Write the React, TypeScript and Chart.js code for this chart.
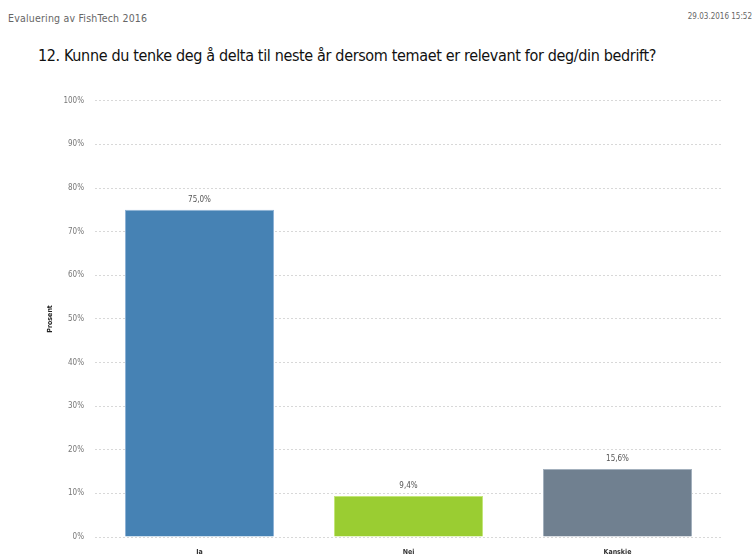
import React, { useEffect, useRef } from "react";
import { Chart, registerables } from "chart.js";

Chart.register(...registerables);

const categories = ["Ja", "Nei", "Kanskje"];
const values = [75.0, 9.4, 15.6];
const barColors = ["#4682B4", "#9ACD32", "#708090"];
const borderColors = ["#8fb3d6", "#c4e67a", "#a3b0bd"];
const yTicks = [0, 10, 20, 30, 40, 50, 60, 70, 80, 90, 100];
const headerLeft = "Evaluering av FishTech 2016";
const headerRight = "29.03.2016 15:52";
const titleText = "12. Kunne du tenke deg å delta til neste år dersom temaet er relevant for deg/din bedrift?";
const yTitle = "Prosent";

const FONT = "'Liberation Sans Narrow', 'DejaVu Sans Condensed', 'Open Sans', sans-serif";

const labelPlugin = {
  id: "labels",
  afterDatasetsDraw(chart: any) {
    const ctx = chart.ctx;
    const meta = chart.getDatasetMeta(0);
    ctx.save();
    ctx.font = `8px ${FONT}`;
    ctx.fillStyle = "#555";
    ctx.textAlign = "center";
    ctx.textBaseline = "bottom";
    meta.data.forEach((bar: any, i: number) => {
      ctx.fillText(values[i].toFixed(1).replace(".", ",") + "%", bar.x, bar.y - 6);
    });
    // y axis title
    const area = chart.chartArea;
    ctx.translate(50, (area.top + area.bottom) / 2);
    ctx.rotate(-Math.PI / 2);
    ctx.font = `bold 7px ${FONT}`;
    ctx.fillStyle = "#222";
    ctx.textBaseline = "middle";
    ctx.fillText(yTitle, 0, 0);
    ctx.restore();
  },
};

export default function App() {
  const ref = useRef<HTMLCanvasElement>(null);
  useEffect(() => {
    if (!ref.current) return;
    const chart = new Chart(ref.current, {
      type: "bar",
      data: {
        labels: categories,
        datasets: [
          {
            data: values,
            backgroundColor: barColors,
            borderColor: borderColors,
            borderWidth: 1,
            categoryPercentage: 0.713,
            barPercentage: 1,
          },
        ],
      },
      options: {
        animation: false,
        responsive: false,
        maintainAspectRatio: false,
        layout: { padding: { top: 15, right: 33, bottom: 0, left: 0 } },
        plugins: { legend: { display: false }, tooltip: { enabled: false } },
        scales: {
          x: {
            grid: { display: false, drawTicks: false },
            border: { display: false },
            ticks: { color: "#333", font: { size: 7, family: FONT, weight: "bold" }, padding: 11 },
            afterFit: (s: any) => { s.height = 38; },
          },
          y: {
            min: 0,
            max: 100,
            afterBuildTicks: (s: any) => { s.ticks = yTicks.map((v) => ({ value: v })); },
            grid: { color: "#d8d8d8", drawTicks: false, lineWidth: 1 },
            border: { display: false, dash: [2, 2] },
            ticks: {
              color: "#777",
              font: { size: 8, family: FONT },
              padding: 11,
              callback: (v: any) => v + "%",
            },
            afterFit: (s: any) => { s.width = 95; },
          },
        },
      },
      plugins: [labelPlugin],
    });
    return () => chart.destroy();
  }, []);

  return (
    <div style={{ position: "absolute", left: 0, top: 0, width: 755, height: 554, overflow: "hidden", background: "#fff", fontFamily: FONT }}>
      <div style={{ position: "absolute", left: 8, top: 12, fontSize: 10.5, color: "#666", letterSpacing: 0.2 }}>{headerLeft}</div>
      <div style={{ position: "absolute", right: 3, top: 12, fontSize: 8, color: "#666" }}>{headerRight}</div>
      <div style={{ position: "absolute", left: 38, top: 46, fontSize: 16, color: "#111", whiteSpace: "nowrap", letterSpacing: -0.35 }}>{titleText}</div>
      <canvas ref={ref} width={755} height={490} style={{ position: "absolute", left: 0, top: 85, width: 755, height: 490 }} />
    </div>
  );
}
